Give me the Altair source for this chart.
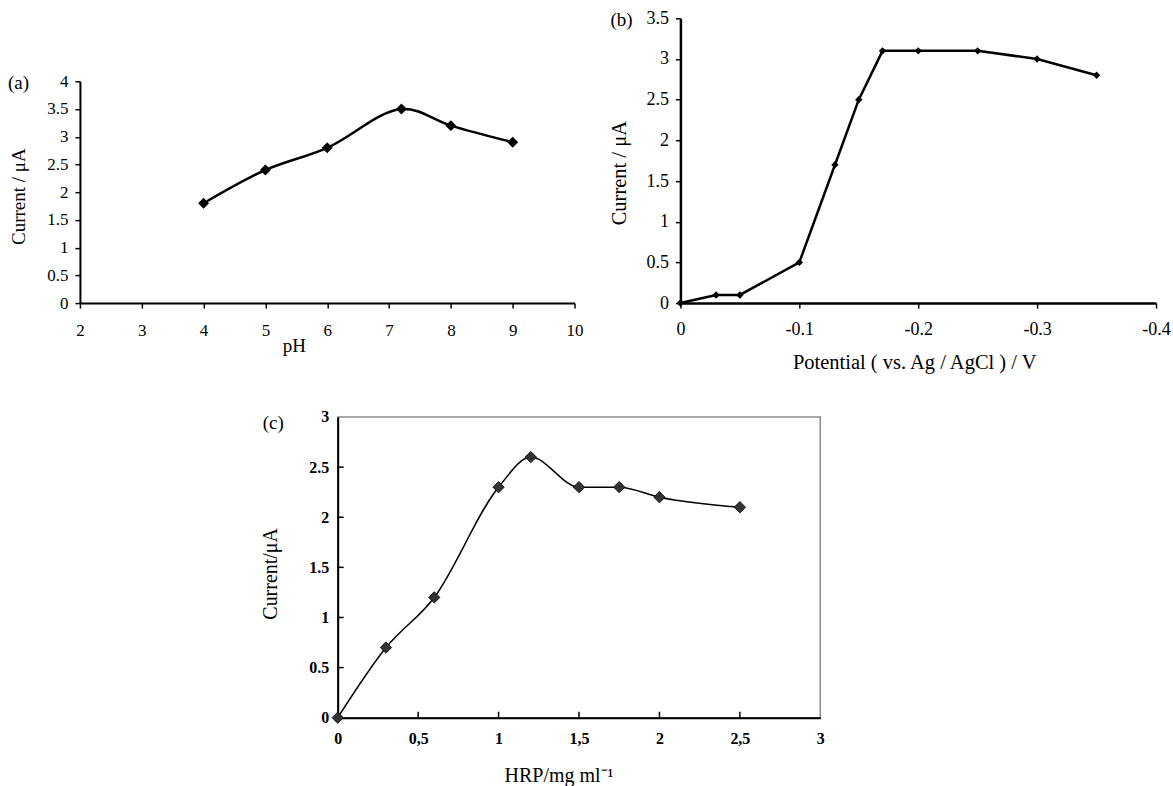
import altair as alt
import pandas as pd

# ---------------- data ----------------
# (a) current vs pH
ph_values = [4, 5, 6, 7.2, 8, 9]
ph_current = [1.8, 2.4, 2.8, 3.5, 3.2, 2.9]
ph_axis_ticks = [2, 3, 4, 5, 6, 7, 8, 9, 10]
ph_current_ticks = [0, 0.5, 1, 1.5, 2, 2.5, 3, 3.5, 4]

# (b) current vs applied potential
potential_values = [0, -0.03, -0.05, -0.1, -0.13, -0.15, -0.17, -0.2, -0.25, -0.3, -0.35]
potential_current = [0, 0.1, 0.1, 0.5, 1.7, 2.5, 3.1, 3.1, 3.1, 3.0, 2.8]
potential_axis_ticks = [0, -0.1, -0.2, -0.3, -0.4]
potential_current_ticks = [0, 0.5, 1, 1.5, 2, 2.5, 3, 3.5]

# (c) current vs HRP concentration
hrp_values = [0, 0.3, 0.6, 1.0, 1.2, 1.5, 1.75, 2.0, 2.5]
hrp_current = [0, 0.7, 1.2, 2.3, 2.6, 2.3, 2.3, 2.2, 2.1]
hrp_axis_ticks = [0, 0.5, 1, 1.5, 2, 2.5, 3]
hrp_current_ticks = [0, 0.5, 1, 1.5, 2, 2.5, 3]

panel_labels = ["(a)", "(b)", "(c)"]
title_a_x, title_a_y = "pH", "Current / μA"
title_b_x, title_b_y = "Potential ( vs. Ag / AgCl ) / V", "Current / μA"
title_c_x, title_c_y = "HRP/mg ml⁻¹", "Current/μA"

# ---------------- layout (pixels) ----------------
FONT = "Liberation Serif"
PAGE_W, PAGE_H, ROW1_H, COL1_W = 1172, 784, 380, 600
A_X, A_Y, A_W, A_H = 80, 81, 495, 222
B_X, B_Y, B_W, B_H = 681, 18, 476, 285
C_X, C_Y, C_W, C_H = 337, 416, 483, 301
A_TOP_EXT = 30      # frame extent above panel (a)
C_LEFT_EXT = 100    # frame extent left of panel (c)

common_axis = dict(grid=False, domainColor="black", tickColor="black", labelColor="black",
                   titleColor="black", labelFont=FONT, titleFont=FONT, titleFontWeight="normal",
                   labelFlush=False, labelOverlap=False, titleBaseline="alphabetic")

plain_label = "toString(datum.value)"
comma_label = "replace(toString(datum.value), '.', ',')"


def frame(x0, x1, y0, y1):
    """Invisible rectangle that fixes a panel's layout cell."""
    return alt.Chart(pd.DataFrame({"f": [0]})).mark_rect(opacity=0).encode(
        x=alt.value(x0), x2=alt.value(x1), y=alt.value(y0), y2=alt.value(y1))


def spacer(w, h):
    return frame(0, w, 0, h).properties(width=w, height=h)


def panel_label(text, dx, dy):
    return alt.Chart(pd.DataFrame({"t": [text]})).mark_text(
        align="left", baseline="middle", font=FONT, fontSize=19, color="black").encode(
        text="t:N", x=alt.value(dx), y=alt.value(dy))


# ---------------- panel (a) ----------------
df_a = pd.DataFrame({"pH": ph_values, "I": ph_current})
xa = alt.X("pH:Q", scale=alt.Scale(domain=[ph_axis_ticks[0], ph_axis_ticks[-1]], nice=False, zero=False),
           axis=alt.Axis(values=ph_axis_ticks, title=title_a_x, labelExpr=plain_label, domainWidth=2,
                         tickSize=5, tickWidth=1.5, labelPadding=14, labelFontSize=17,
                         titleFontSize=19, titleX=214, titleY=48, **common_axis))
ya = alt.Y("I:Q", scale=alt.Scale(domain=[ph_current_ticks[0], ph_current_ticks[-1]], nice=False),
           axis=alt.Axis(values=ph_current_ticks, title=title_a_y, labelExpr=plain_label, domainWidth=2,
                         tickSize=5, tickWidth=1.5, labelPadding=7, labelFontSize=17,
                         titleFontSize=19, titleX=-55, titleY=A_H / 2 + 4, **common_axis))
base_a = alt.Chart(df_a)
line_a = base_a.mark_line(color="black", strokeWidth=2.5, interpolate="catmull-rom").encode(x=xa, y=ya)
pts_a = base_a.mark_point(shape="diamond", filled=True, color="black", size=120, opacity=1).encode(x=xa, y=ya)
chart_a = alt.layer(
    line_a, pts_a, panel_label(panel_labels[0], -72, 2),
    frame(-A_X, COL1_W - A_X, -A_TOP_EXT, ROW1_H - A_Y),
).properties(width=A_W, height=A_H)
col_a = alt.vconcat(spacer(1, A_Y - B_Y - A_TOP_EXT), chart_a, spacing=0)

# ---------------- panel (b) ----------------
df_b = pd.DataFrame({"E": potential_values, "I": potential_current})
xb = alt.X("E:Q", scale=alt.Scale(domain=[potential_axis_ticks[-1], potential_axis_ticks[0]], reverse=True,
                                  nice=False, zero=False),
           axis=alt.Axis(values=potential_axis_ticks, title=title_b_x, labelExpr=plain_label, domainWidth=2.5,
                         tickSize=5, tickWidth=1.5, labelPadding=12, labelFontSize=18,
                         titleFontSize=20.5, titleX=B_W / 2 - 4, titleY=65, **common_axis))
yb = alt.Y("I:Q", scale=alt.Scale(domain=[potential_current_ticks[0], potential_current_ticks[-1]], nice=False),
           axis=alt.Axis(values=potential_current_ticks, title=title_b_y, labelExpr=plain_label, domainWidth=2.5,
                         tickSize=5, tickWidth=1.5, labelPadding=7, labelFontSize=18,
                         titleFontSize=20.5, titleX=-55, titleY=B_H / 2 + 12, **common_axis))
base_b = alt.Chart(df_b)
line_b = base_b.mark_line(color="black", strokeWidth=2.5).encode(x=xb, y=yb)
pts_b = base_b.mark_point(shape="diamond", filled=True, color="black", size=55, opacity=1).encode(x=xb, y=yb)
chart_b = alt.layer(
    line_b, pts_b, panel_label(panel_labels[1], -70, 2),
    frame(COL1_W - B_X, PAGE_W - B_X, -B_Y, ROW1_H - B_Y),
).properties(width=B_W, height=B_H)

# ---------------- panel (c) ----------------
df_c = pd.DataFrame({"HRP": hrp_values, "I": hrp_current})
xc = alt.X("HRP:Q", scale=alt.Scale(domain=[hrp_axis_ticks[0], hrp_axis_ticks[-1]], nice=False),
           axis=alt.Axis(values=hrp_axis_ticks, title=title_c_x, labelExpr=comma_label, domainWidth=2,
                         ticks=False, tickSize=0, labelPadding=13, labelFontSize=16, labelFontWeight="bold",
                         titleFontSize=20, titleX=221, titleY=64, **common_axis))
yc = alt.Y("I:Q", scale=alt.Scale(domain=[hrp_current_ticks[0], hrp_current_ticks[-1]], nice=False),
           axis=alt.Axis(values=hrp_current_ticks, title=title_c_y, labelExpr=plain_label, domainWidth=2,
                         ticks=False, tickSize=0, labelPadding=9, labelFontSize=16, labelFontWeight="bold",
                         titleFontSize=20, titleX=-61, titleY=C_H / 2 + 6, **common_axis))
base_c = alt.Chart(df_c)
line_c = base_c.mark_line(color="black", strokeWidth=1.5, interpolate="monotone").encode(x=xc, y=yc)
pts_c = base_c.mark_point(shape="diamond", filled=True, fill="#333333", stroke="black", strokeWidth=0.8,
                          size=130, opacity=1).encode(x=xc, y=yc)
# inward tick marks (same fields/axes as the data layer so the axes merge)
xt_c = alt.Chart(pd.DataFrame({"HRP": hrp_axis_ticks[1:-1]})).mark_rule(color="black", strokeWidth=1.5).encode(
    x=xc, y=alt.value(C_H), y2=alt.value(C_H - 6))
yt_c = alt.Chart(pd.DataFrame({"I": hrp_current_ticks[1:-1]})).mark_rule(color="black", strokeWidth=1.5).encode(
    y=yc, x=alt.value(0), x2=alt.value(6))
chart_c = alt.layer(
    line_c, pts_c, xt_c, yt_c, panel_label(panel_labels[2], -75, 6),
    frame(-C_LEFT_EXT, PAGE_W - C_X, ROW1_H - C_Y, PAGE_H - C_Y),
).properties(width=C_W, height=C_H, view=alt.ViewBackground(stroke="#8a8a8a", strokeWidth=1.5))

row1 = alt.hconcat(col_a, chart_b, spacing=0)
# the second row's origin is aligned with panel (a)'s origin (x = A_X)
row2 = alt.hconcat(spacer(C_X - C_LEFT_EXT - A_X, 1), chart_c, spacing=0)
chart = alt.vconcat(row1, row2, spacing=0).properties(
    padding={"left": 0, "top": 0, "right": 0, "bottom": 0},
    background="white",
).configure_view(stroke=None)

chart.save("out.html", embed_options={"renderer": "svg", "actions": False})
